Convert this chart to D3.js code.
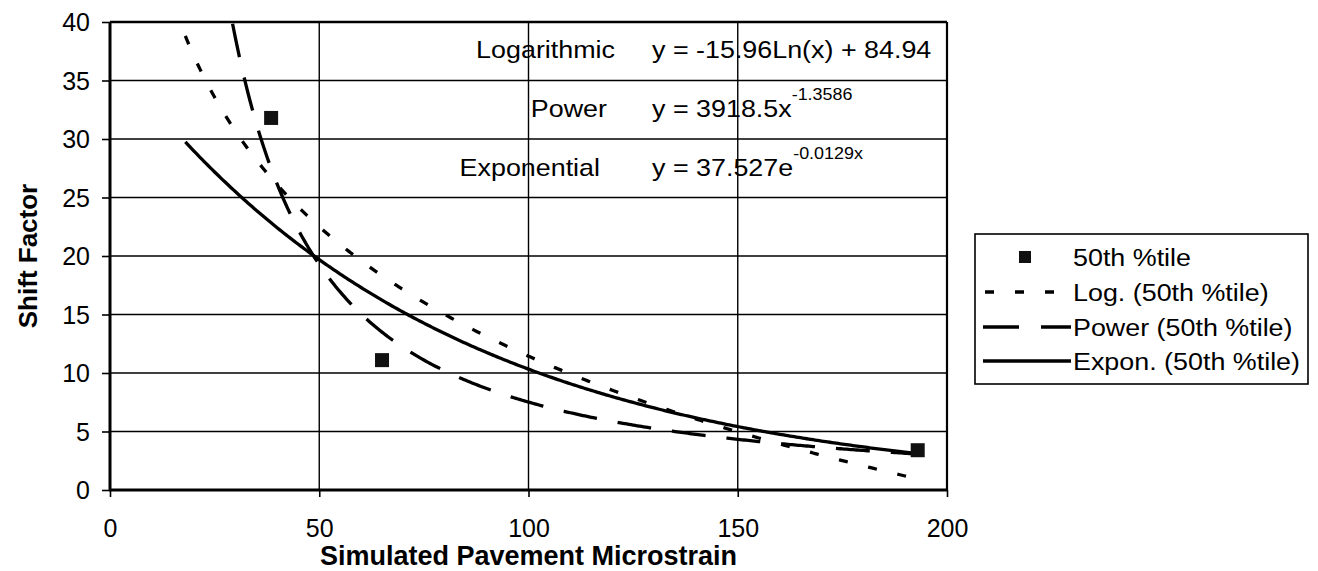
<!DOCTYPE html>
<html>
<head>
<meta charset="utf-8">
<script src="https://cdn.jsdelivr.net/npm/d3@7"></script>
<style>
  html, body { margin: 0; padding: 0; background: #fff; }
  svg { display: block; }
  text { font-family: "Liberation Sans", Arial, sans-serif; fill: #000; }
</style>
</head>
<body>
<svg id="chart" width="1318" height="571"></svg>
<script>
// ---- data ----
const xTicks = [0, 50, 100, 150, 200];
const yTicks = [0, 5, 10, 15, 20, 25, 30, 35, 40];
const pointX = [38.5, 65, 193];
const pointY = [31.8, 11.1, 3.4];
// trendline coefficients as printed on the chart
const logCoef = [-15.96, 84.94];     // y = a ln(x) + b
const powCoef = [3918.5, -1.3586];   // y = a x^b
const expCoef = [37.527, -0.0129];   // y = a e^(b x)
const trendRange = [18, 193];
const legendLabels = ["50th %tile", "Log. (50th %tile)", "Power (50th %tile)", "Expon. (50th %tile)"];
const eqLabels = ["Logarithmic", "Power", "Exponential"];

// ---- layout ----
const svg = d3.select("#chart");
const L = 110, R = 947, T = 22, B = 490;
const x = d3.scaleLinear().domain([0, 200]).range([L, R]);
const y = d3.scaleLinear().domain([0, 40]).range([B, T]);

svg.append("rect").attr("width", 1318).attr("height", 571).attr("fill", "#fff");

// gridlines
svg.append("g").selectAll("line.h").data(yTicks.filter(d => d > 0 && d < 40)).join("line")
  .attr("x1", L).attr("x2", R).attr("y1", d => y(d)).attr("y2", d => y(d))
  .attr("stroke", "#000").attr("stroke-width", 1.4);
svg.append("g").selectAll("line.v").data(xTicks.filter(d => d > 0 && d < 200)).join("line")
  .attr("y1", T).attr("y2", B).attr("x1", d => x(d)).attr("x2", d => x(d))
  .attr("stroke", "#000").attr("stroke-width", 1.4);

// axes
const xAxis = svg.append("g").attr("transform", `translate(0,${B})`)
  .call(d3.axisBottom(x).tickValues(xTicks).tickSize(7).tickFormat(d3.format("d")));
const yAxis = svg.append("g").attr("transform", `translate(${L},0)`)
  .call(d3.axisLeft(y).tickValues(yTicks).tickSize(8).tickFormat(d3.format("d")));
[xAxis, yAxis].forEach(a => {
  a.select(".domain").remove();
  a.selectAll(".tick line").attr("stroke", "#000").attr("stroke-width", 1.6);
  a.selectAll(".tick text").attr("font-size", 25).attr("font-family", "Liberation Sans, Arial, sans-serif").attr("fill", "#000");
});
xAxis.selectAll(".tick text").attr("dy", null).attr("y", 47);
yAxis.selectAll(".tick text").attr("x", -20).attr("dy", "0.35em");

// clip
svg.append("clipPath").attr("id", "plotclip").append("rect")
  .attr("x", L).attr("y", T).attr("width", R - L).attr("height", B - T);

const xs = d3.range(trendRange[0], trendRange[1] + 0.001, 0.5);
const line = d3.line().x(d => x(d[0])).y(d => y(d[1]));
const curves = svg.append("g").attr("clip-path", "url(#plotclip)");
curves.append("path").datum(xs.map(v => [v, logCoef[0] * Math.log(v) + logCoef[1]]))
  .attr("d", line).attr("fill", "none").attr("stroke", "#000").attr("stroke-width", 3.3)
  .attr("stroke-dasharray", "9,21");
curves.append("path").datum(xs.map(v => [v, powCoef[0] * Math.pow(v, powCoef[1])]))
  .attr("d", line).attr("fill", "none").attr("stroke", "#000").attr("stroke-width", 3.3)
  .attr("stroke-dasharray", "34,21");
curves.append("path").datum(xs.map(v => [v, expCoef[0] * Math.exp(expCoef[1] * v)]))
  .attr("d", line).attr("fill", "none").attr("stroke", "#000").attr("stroke-width", 3.3);

// points
svg.append("g").selectAll("rect").data(pointX.map((v, i) => [v, pointY[i]])).join("rect")
  .attr("x", d => x(d[0]) - 7).attr("y", d => y(d[1]) - 7).attr("width", 14).attr("height", 14)
  .attr("fill", "#111");

// plot border
svg.append("line").attr("x1", L).attr("x2", L).attr("y1", T).attr("y2", B).attr("stroke", "#000").attr("stroke-width", 3);
svg.append("line").attr("x1", L - 1).attr("x2", R).attr("y1", B).attr("y2", B).attr("stroke", "#000").attr("stroke-width", 3);
svg.append("line").attr("x1", L).attr("x2", R).attr("y1", T).attr("y2", T).attr("stroke", "#000").attr("stroke-width", 2.6);
svg.append("line").attr("x1", R).attr("x2", R).attr("y1", T).attr("y2", B).attr("stroke", "#000").attr("stroke-width", 2.2);

// axis titles
svg.append("text").attr("x", (L + R) / 2).attr("y", 565).attr("text-anchor", "middle")
  .attr("font-size", 27).attr("font-weight", "bold").text("Simulated Pavement Microstrain");
svg.append("text").attr("transform", `translate(37,${(T + B) / 2}) rotate(-90)`).attr("text-anchor", "middle")
  .attr("font-size", 26).attr("font-weight", "bold").text("Shift Factor");

// equations
function stretched(xp, yp, anchor) {
  return svg.append("text").attr("transform", `translate(${xp},${yp}) scale(1.12,1)`)
    .attr("text-anchor", anchor).attr("font-size", 24);
}
const eqBase = [58, 117, 176];
const eqEnd = [615, 607, 600];
eqLabels.forEach((s, i) => stretched(eqEnd[i], eqBase[i], "end").text(s));
stretched(652, eqBase[0], "start").text(`y = ${logCoef[0]}Ln(x) + ${logCoef[1]}`);
const pe = stretched(652, eqBase[1], "start");
pe.append("tspan").text(`y = ${powCoef[0]}x`);
pe.append("tspan").attr("dy", -17).attr("font-size", 16).text(`${powCoef[1]}`);
const ee = stretched(652, eqBase[2], "start");
ee.append("tspan").text(`y = ${expCoef[0]}e`);
ee.append("tspan").attr("dy", -17).attr("font-size", 16).text(`${expCoef[1]}x`);

// legend
const lg = svg.append("g");
lg.append("rect").attr("x", 975).attr("y", 234).attr("width", 333).attr("height", 150)
  .attr("fill", "#fff").attr("stroke", "#000").attr("stroke-width", 1.6);
const rowY = [257, 292, 327, 361];
lg.append("rect").attr("x", 1019).attr("y", rowY[0] - 6).attr("width", 12).attr("height", 12).attr("fill", "#111");
lg.append("line").attr("x1", 985).attr("x2", 1062).attr("y1", rowY[1]).attr("y2", rowY[1])
  .attr("stroke", "#000").attr("stroke-width", 3.3).attr("stroke-dasharray", "9,21");
lg.append("line").attr("x1", 983).attr("x2", 1071).attr("y1", rowY[2]).attr("y2", rowY[2])
  .attr("stroke", "#000").attr("stroke-width", 3.3).attr("stroke-dasharray", "36,22");
lg.append("line").attr("x1", 983).attr("x2", 1071).attr("y1", rowY[3]).attr("y2", rowY[3])
  .attr("stroke", "#000").attr("stroke-width", 3.3);
legendLabels.forEach((s, i) => {
  lg.append("text").attr("transform", `translate(1073,${rowY[i] + 8.5}) scale(1.12,1)`)
    .attr("font-size", 24).text(s);
});
</script>
</body>
</html>
